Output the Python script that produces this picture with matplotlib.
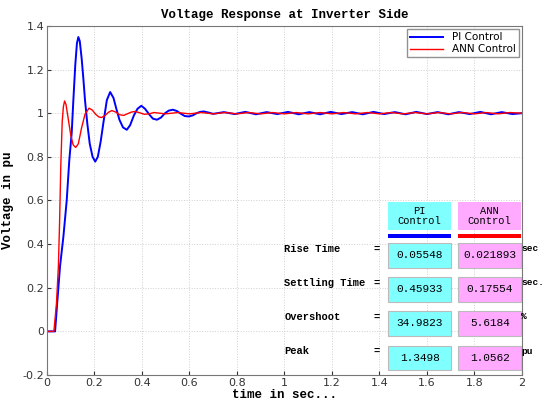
import matplotlib
matplotlib.use("Agg")
import matplotlib.pyplot as plt

# PI control response
t_pi = [0, 0.034, 0.044, 0.055, 0.069, 0.083, 0.094, 0.104, 0.111, 0.119, 0.126, 0.132,
        0.138, 0.146, 0.153, 0.16, 0.170, 0.180, 0.192, 0.203, 0.214, 0.226, 0.238, 0.252,
        0.266, 0.280, 0.292, 0.305, 0.320, 0.336, 0.350, 0.366, 0.381, 0.397, 0.413, 0.430,
        0.446, 0.463, 0.480, 0.497, 0.513, 0.530, 0.547, 0.563, 0.580, 0.597, 0.614, 0.630,
        0.645, 0.660, 0.680,
        0.70, 0.745, 0.79, 0.835, 0.88, 0.925, 0.97, 1.015, 1.06, 1.105, 1.15, 1.195,
        1.24, 1.285, 1.33, 1.375, 1.42, 1.465, 1.51, 1.555, 1.60, 1.645, 1.69, 1.735,
        1.78, 1.825, 1.87, 1.915, 1.96, 2.0]
v_pi = [0, 0, 0.145, 0.30, 0.434, 0.60, 0.786, 0.91, 1.06, 1.22, 1.32, 1.349,
        1.33, 1.25, 1.16, 1.06, 0.95, 0.86, 0.80, 0.778, 0.80, 0.87, 0.96, 1.06,
        1.097, 1.07, 1.02, 0.97, 0.935, 0.924, 0.945, 0.99, 1.02, 1.034, 1.02, 0.995,
        0.975, 0.970, 0.980, 1.000, 1.012, 1.016, 1.010, 0.998, 0.987, 0.985, 0.990, 1.000,
        1.006, 1.008, 1.003,
        0.997, 1.005, 0.996, 1.006, 0.995, 1.005, 0.996, 1.006, 0.995, 1.005, 0.995, 1.006,
        0.996, 1.005, 0.995, 1.006, 0.996, 1.005, 0.995, 1.006, 0.996, 1.005, 0.995, 1.005,
        0.996, 1.006, 0.995, 1.005, 0.996, 1.0]

# ANN control response
t_ann = [0, 0.029, 0.040, 0.048, 0.053, 0.058, 0.064, 0.069, 0.074, 0.080, 0.090, 0.100,
         0.110, 0.121, 0.132, 0.145, 0.160, 0.177, 0.190, 0.205, 0.218, 0.230, 0.245, 0.260,
         0.273, 0.290, 0.305, 0.323, 0.340, 0.355, 0.371, 0.390, 0.410, 0.430,
         0.45, 0.50, 0.55, 0.60, 0.65, 0.70, 0.75, 0.80, 0.85, 0.90, 0.95, 1.00, 1.05,
         1.10, 1.15, 1.20, 1.25, 1.30, 1.35, 1.40, 1.45, 1.50, 1.55, 1.60, 1.65, 1.70,
         1.75, 1.80, 1.85, 1.90, 1.95, 2.0]
v_ann = [0, 0, 0.13, 0.30, 0.50, 0.755, 0.96, 1.03, 1.056, 1.04, 0.97, 0.90,
         0.855, 0.843, 0.86, 0.93, 0.995, 1.023, 1.015, 0.995, 0.983, 0.980, 0.990, 1.005,
         1.012, 1.005, 0.993, 0.990, 0.998, 1.005, 1.008, 1.002, 0.995, 0.997,
         1.003, 0.997, 1.003, 0.997, 1.003, 0.997, 1.003, 0.997, 1.003, 0.997, 1.003, 0.997, 1.003,
         0.997, 1.003, 0.997, 1.003, 0.997, 1.003, 0.997, 1.003, 0.997, 1.003, 0.997, 1.003, 0.997,
         1.003, 0.997, 1.003, 0.997, 1.003, 1.0]

metric_names = ["Rise Time", "Settling Time", "Overshoot", "Peak"]
pi_vals = ["0.05548", "0.45933", "34.9823", "1.3498"]
ann_vals = ["0.021893", "0.17554", "5.6184", "1.0562"]
units = ["sec", "sec.", "%", "pu"]

mono = "Liberation Mono"

fig = plt.figure(figsize=(5.44, 4.05), dpi=100)
ax = fig.add_axes([0.0864, 0.074, 0.873, 0.862])

ax.plot(t_pi, v_pi, color="#0000ff", lw=1.4, label="PI Control")
ax.plot(t_ann, v_ann, color="#ff0000", lw=1.0, label="ANN Control")

ax.set_xlim(0, 2)
ax.set_ylim(-0.2, 1.4)
ax.set_xticks([0, 0.2, 0.4, 0.6, 0.8, 1, 1.2, 1.4, 1.6, 1.8, 2])
ax.set_xticklabels(["0", "0.2", "0.4", "0.6", "0.8", "1", "1.2", "1.4", "1.6", "1.8", "2"])
ax.set_yticks([-0.2, 0, 0.2, 0.4, 0.6, 0.8, 1, 1.2, 1.4])
ax.set_yticklabels(["-0.2", "0", "0.2", "0.4", "0.6", "0.8", "1", "1.2", "1.4"])
ax.tick_params(direction="in", length=3, labelsize=8, colors="#333333", pad=2)
for s in ax.spines.values():
    s.set_color("#777777")
ax.grid(True, ls=":", color="#d0d0d0", lw=0.7)

ax.set_title("Voltage Response at Inverter Side", family=mono, fontweight="bold",
             fontsize=9, pad=6)
ax.set_xlabel("time in sec...", family=mono, fontweight="bold", fontsize=9, labelpad=1)
ax.set_ylabel("Voltage in pu", family=mono, fontweight="bold", fontsize=9, labelpad=6)

leg = ax.legend(loc="upper right", fontsize=7.5, frameon=True, fancybox=False,
                edgecolor="#777777", borderpad=0.3, labelspacing=0.2,
                handlelength=3.2, borderaxespad=0.3)

# results table drawn with boxes in data coordinates
cyan = "#80ffff"
pink = "#ffaaff"
x_pi0, x_pi1 = 1.435, 1.703
x_an0, x_an1 = 1.731, 1.998
head_y0, head_y1 = 0.465, 0.592

def box(x0, x1, y0, y1, fc, ec, txt, fs=8):
    r = plt.Rectangle((x0, y0), x1 - x0, y1 - y0, facecolor=fc, edgecolor=ec,
                      lw=0.8, zorder=5, clip_on=False)
    ax.add_patch(r)
    ax.text((x0 + x1) / 2, (y0 + y1) / 2, txt, ha="center", va="center",
            family=mono, fontsize=fs, zorder=6, linespacing=1.1)

box(x_pi0, x_pi1, head_y0, head_y1, cyan, "none", "PI\nControl", 7.5)
box(x_an0, x_an1, head_y0, head_y1, pink, "none", "ANN\nControl", 7.5)
ax.add_patch(plt.Rectangle((x_pi0, 0.430), x_pi1 - x_pi0, 0.017, facecolor="#0000ff",
                           edgecolor="none", zorder=5))
ax.add_patch(plt.Rectangle((x_an0, 0.430), x_an1 - x_an0, 0.017, facecolor="#ff0000",
                           edgecolor="none", zorder=5, clip_on=False))

row_bounds = [(0.292, 0.407), (0.136, 0.248), (-0.020, 0.094), (-0.177, -0.066)]
for i, (y0, y1) in enumerate(row_bounds):
    yc = (y0 + y1) / 2
    box(x_pi0, x_pi1, y0, y1, cyan, "#bbbbbb", pi_vals[i])
    box(x_an0, x_an1, y0, y1, pink, "#bbbbbb", ann_vals[i])
    ax.text(1.0, yc + 0.03, metric_names[i], family=mono, fontweight="bold",
            fontsize=7.5, va="center", ha="left", zorder=6)
    ax.text(1.375, yc + 0.03, "=", family=mono, fontweight="bold", fontsize=7.5,
            va="center", ha="left", zorder=6)
    ax.text(1.996, yc + 0.03, units[i], family=mono, fontweight="bold", fontsize=6.8,
            va="center", ha="left", zorder=6, clip_on=False)

fig.savefig("out.png", dpi=100)
